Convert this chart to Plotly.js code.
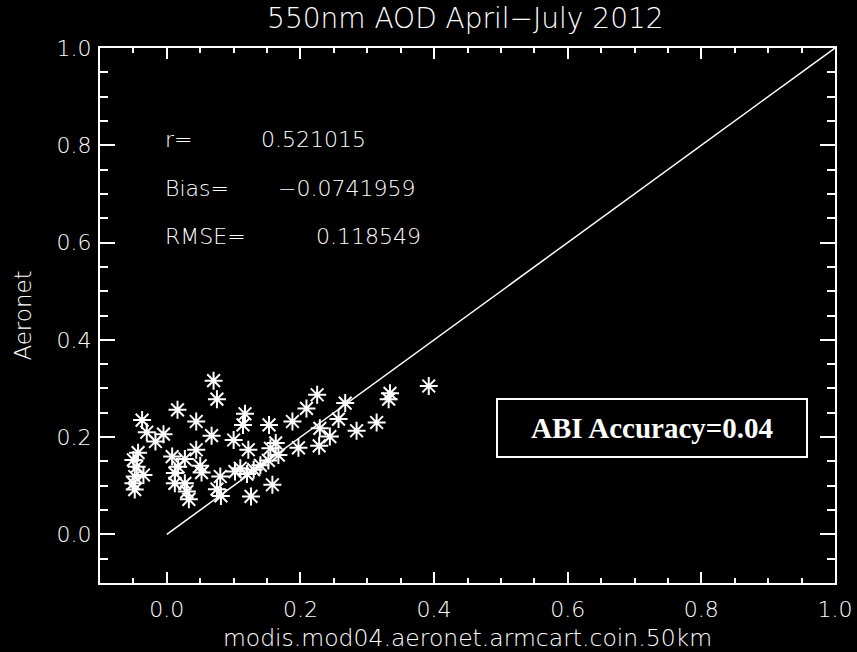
<!DOCTYPE html>
<html>
<head>
<meta charset="utf-8">
<script src="https://cdn.plot.ly/plotly-3.0.1.min.js"></script>
<style>html,body{margin:0;padding:0;background:#000;}#chart{width:857px;height:652px;}</style>
</head>
<body>
<div id="chart"></div>
<script>
// Scatter values: MODIS (x) vs Aeronet (y), 550nm AOD
const modisAOD = [
  -0.043, -0.050, -0.045, -0.035, -0.048, -0.050, -0.048,
  -0.037, -0.030, -0.017, -0.005, 0.016, 0.044, 0.067, 0.070, 0.075, 0.117, 0.114, 0.153, 0.100, 0.044,
  0.008, 0.027, 0.017, 0.012, 0.012, 0.027, 0.030, 0.050, 0.052, 0.033,
  0.080, 0.075, 0.081,
  0.102, 0.110, 0.120, 0.130, 0.140, 0.152, 0.167, 0.155, 0.163, 0.122, 0.158, 0.126,
  0.188, 0.197, 0.209, 0.225, 0.229, 0.228, 0.244, 0.257, 0.267, 0.284, 0.314, 0.332, 0.334, 0.392
];
const aeronetAOD = [
  0.168, 0.153, 0.139, 0.122, 0.119, 0.105, 0.092,
  0.235, 0.210, 0.191, 0.206, 0.256, 0.232, 0.203, 0.316, 0.278, 0.248, 0.225, 0.225, 0.194, 0.174,
  0.160, 0.155, 0.139, 0.126, 0.105, 0.105, 0.088, 0.141, 0.127, 0.072,
  0.119, 0.093, 0.079,
  0.129, 0.136, 0.124, 0.133, 0.142, 0.152, 0.163, 0.177, 0.188, 0.174, 0.102, 0.078,
  0.232, 0.178, 0.259, 0.287, 0.218, 0.182, 0.201, 0.237, 0.270, 0.213, 0.230, 0.278, 0.290, 0.305
];
// 1:1 reference line
const oneToOneX = [0.0, 1.0];
const oneToOneY = [0.0, 1.0];
// Statistics text
const statLabels = ["r=", "Bias=", "RMSE="];
const statValues = ["0.521015", "\u22120.0741959", "0.118549"];
const statRows = [0.812, 0.712, 0.612];
const statValueX = [0.138, 0.163, 0.22];
const accuracyText = "ABI Accuracy=0.04";
const tickVals = [0.0, 0.2, 0.4, 0.6, 0.8, 1.0];
const tickText = ["0.0", "0.2", "0.4", "0.6", "0.8", "1.0"];

const FONT = "DejaVu Sans";
const traces = [
  {
    x: oneToOneX, y: oneToOneY, type: "scatter", mode: "lines",
    line: {color: "#ffffff", width: 1.5}, hoverinfo: "skip", showlegend: false
  },
  {
    x: modisAOD, y: aeronetAOD, type: "scatter", mode: "markers",
    marker: {symbol: "asterisk-open", size: 15, color: "#ffffff", line: {color: "#ffffff", width: 2}},
    showlegend: false
  }
];

const annotations = [];
statLabels.forEach((t, i) => {
  annotations.push({x: -0.005, y: statRows[i], xref: "x", yref: "y", text: t, showarrow: false,
    xanchor: "left", yanchor: "middle", font: {family: FONT, size: 22, color: "#ffffff", weight: 300}});
  annotations.push({x: statValueX[i], y: statRows[i], xref: "x", yref: "y", text: statValues[i], showarrow: false,
    xanchor: "left", yanchor: "middle", font: {family: FONT, size: 22, color: "#ffffff", weight: 300}});
});
annotations.push({x: 0.726, y: 0.219, xref: "x", yref: "y", text: "<b>" + accuracyText + "</b>", showarrow: false,
  xanchor: "center", yanchor: "middle", width: 306, height: 54, bordercolor: "#ffffff", borderwidth: 2,
  font: {family: "Liberation Serif", size: 29, color: "#ffffff"}});

const axisCommon = {
  range: [-0.1, 1.0], showgrid: false, zeroline: false, showline: true, linecolor: "#ffffff", linewidth: 2,
  mirror: "allticks", ticks: "inside", tickcolor: "#ffffff", tickwidth: 2,
  tickmode: "array", tickvals: tickVals, ticktext: tickText,
  tickfont: {family: FONT, size: 22, color: "#ffffff", weight: 300},
  minor: {ticks: "inside", dtick: 0.05, tick0: 0, tickcolor: "#ffffff", tickwidth: 2}
};

const layout = {
  width: 857, height: 652,
  paper_bgcolor: "#000000", plot_bgcolor: "#000000",
  margin: {l: 100, r: 22, t: 48, b: 69},
  title: {text: "550nm AOD April\u2212July 2012", x: 0.543, xanchor: "center", y: 0.972, yanchor: "middle",
    font: {family: FONT, size: 28, color: "#ffffff", weight: 300}},
  xaxis: Object.assign({}, axisCommon, {ticklen: 11, minor: Object.assign({}, axisCommon.minor, {ticklen: 5}),
    ticklabelstandoff: 6,
    title: {text: "modis.mod04.aeronet.armcart.coin.50km", standoff: 8, font: {family: FONT, size: 23.5, color: "#ffffff", weight: 300}}}),
  yaxis: Object.assign({}, axisCommon, {ticklen: 15, minor: Object.assign({}, axisCommon.minor, {ticklen: 8}),
    ticklabelstandoff: 2,
    title: {text: "Aeronet", standoff: 19, font: {family: FONT, size: 23, color: "#ffffff", weight: 300}}}),
  annotations: annotations
};

Plotly.newPlot("chart", traces, layout, {displayModeBar: false, staticPlot: true});
</script>
</body>
</html>
